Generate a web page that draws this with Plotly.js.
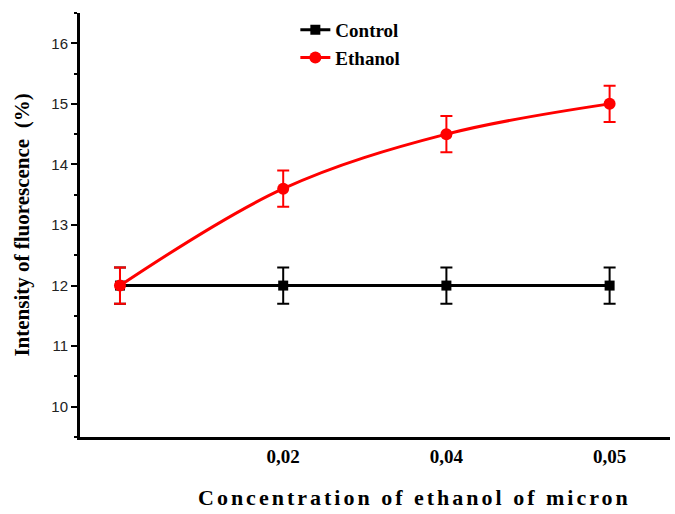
<!DOCTYPE html>
<html>
<head>
<meta charset="utf-8">
<script src="https://cdn.plot.ly/plotly-3.0.1.min.js"></script>
<style>
html,body{margin:0;padding:0;background:#fff;}
#chart{width:675px;height:514px;}
.annotation-text{letter-spacing:3px;}
</style>
</head>
<body>
<div id="chart"></div>
<script>
// Data
var xPositions = [0, 1, 2, 3];
var xTickLabels = ["", "0,02", "0,04", "0,05"];
var controlValues = [12, 12, 12, 12];
var controlErrors = [0.3, 0.3, 0.3, 0.3];
var ethanolValues = [12, 13.6, 14.5, 15.0];
var ethanolErrors = [0.3, 0.3, 0.3, 0.3];
var yTickValues = [10, 11, 12, 13, 14, 15, 16];

var serif = "Liberation Serif, Times New Roman, serif";

var traces = [
  {
    name: "Control", x: xPositions, y: controlValues, type: "scatter", mode: "lines+markers",
    line: {color: "#000000", width: 3},
    marker: {symbol: "square", size: 10, color: "#000000"},
    error_y: {type: "data", array: controlErrors, visible: true, color: "#000000", thickness: 2, width: 6}
  },
  {
    name: "Ethanol", x: xPositions, y: ethanolValues, type: "scatter", mode: "lines+markers",
    line: {color: "#ff0000", width: 3, shape: "spline", smoothing: 1},
    marker: {symbol: "circle", size: 12, color: "#ff0000"},
    error_y: {type: "data", array: ethanolErrors, visible: true, color: "#ff0000", thickness: 2, width: 6}
  }
];

var layout = {
  width: 675, height: 514,
  margin: {l: 80, r: 5, t: 13, b: 77},
  paper_bgcolor: "#ffffff", plot_bgcolor: "#ffffff",
  showlegend: true,
  legend: {
    x: 0.365, y: 1.005, xanchor: "left", yanchor: "top",
    font: {family: serif, size: 19, color: "#000000", weight: "bold"},
    bgcolor: "rgba(0,0,0,0)", tracegroupgap: 0, itemwidth: 30
  },
  xaxis: {
    range: [-0.245, 3.37],
    tickvals: xPositions, ticktext: xTickLabels,
    showgrid: false, zeroline: false,
    showline: true, linecolor: "#000000", linewidth: 3,
    ticks: "",
    tickfont: {family: serif, size: 19, color: "#000000", weight: "bold"}
  },
  yaxis: {
    range: [9.5, 16.5],
    tickvals: yTickValues,
    showgrid: false, zeroline: false,
    showline: true, linecolor: "#000000", linewidth: 3,
    ticks: "outside", ticklen: 6, tickwidth: 2, tickcolor: "#000000",
    minor: {dtick: 0.5, tick0: 9.5, ticks: "outside", ticklen: 3, tickwidth: 2, tickcolor: "#000000"},
    tickfont: {family: "Liberation Sans, Arial, sans-serif", size: 15, color: "#222222"},
    title: {text: "Intensity of fluorescence  (%)", standoff: 16,
      font: {family: serif, size: 21, color: "#000000", weight: "bold"}}
  },
  annotations: [
    {
      text: "Concentration of ethanol of micron",
      xref: "paper", yref: "paper", x: 0.567, y: -0.142, xanchor: "center", yanchor: "middle",
      showarrow: false,
      font: {family: serif, size: 22, color: "#000000", weight: "bold"}
    }
  ]
};

Plotly.newPlot("chart", traces, layout, {displayModeBar: false, staticPlot: true});
</script>
</body>
</html>
